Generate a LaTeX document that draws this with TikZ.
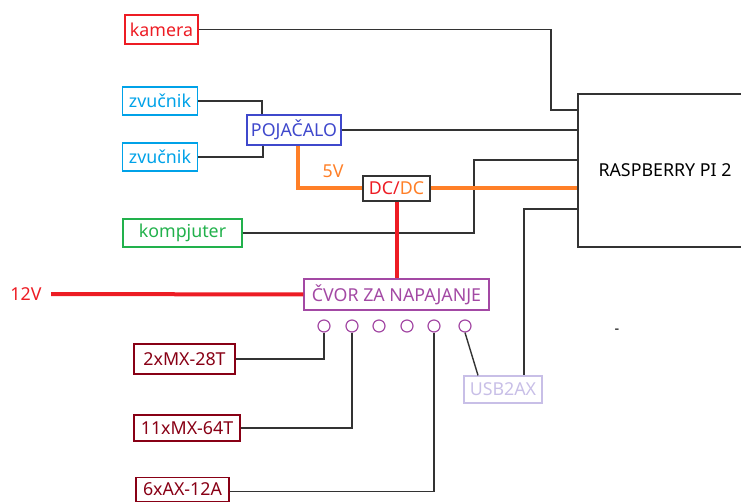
\documentclass[tikz,border=0pt]{standalone}
\usepackage{fontspec}
\setmainfont{Noto Sans}
\usetikzlibrary{positioning}
\definecolor{pred}{HTML}{ED1C24}
\definecolor{pblue}{HTML}{00A2E8}
\definecolor{pindigo}{HTML}{3F48CC}
\definecolor{porange}{HTML}{FF7F27}
\definecolor{pgreen}{HTML}{22B14C}
\definecolor{ppurple}{HTML}{A349A4}
\definecolor{pmaroon}{HTML}{880015}
\definecolor{plavender}{HTML}{C8BFE7}

\begin{document}
\begin{tikzpicture}[
  x=1pt, y=-1pt,
  font=\fontsize{17.8}{21}\selectfont,
  box/.style={draw, line width=1.3pt, inner sep=2pt, minimum height=28pt, align=center},
  wire/.style={line width=1.4pt, draw=black!80},
  pwr5/.style={line width=4pt, draw=porange},
  pwr12/.style={line width=4pt, draw=pred},
  port/.style={circle, draw=ppurple, line width=1.2pt, minimum size=12pt, inner sep=0pt},
]
  \clip (0,0) rectangle (741,502);

  % Peripherals
  \node[box, draw=pred, text=pred, minimum width=73pt, minimum height=29pt] (kamera) at (161.5,29.5) {kamera};
  \node[box, draw=pblue, text=pblue, minimum width=75pt] (zv1) at (160,101) {zvučnik};
  \node[box, draw=pblue, text=pblue, minimum width=75pt] (zv2) at (160,157) {zvučnik};
  \node[box, draw=pindigo, text=pindigo, minimum width=94pt, minimum height=30pt] (poj) at (294,130) {POJAČALO};
  \node[box, draw=pgreen, text=pgreen, minimum width=119pt] (komp) at (182.5,233) {kompjuter};

  % Power
  \node[box, draw=black!80, minimum width=67pt, minimum height=25pt] (dcdc) at (396.5,188.5) {\textcolor{pred}{DC/}\textcolor{porange}{DC}};
  \node[text=porange] (lbl5v) at (333,171) {5V};
  \node[text=pred] (v12) at (26,294) {12V};
  \node[box, draw=ppurple, text=ppurple, minimum width=185pt, minimum height=31pt] (cvor) at (396.5,294.5) {ČVOR ZA NAPAJANJE};
  \foreach \i/\x in {1/324, 2/352, 3/379, 4/407, 5/434, 6/465}
    \node[port] (p\i) at (\x,326) {};

  % Controller
  \node[box, draw=black!80, minimum width=174pt, minimum height=153pt] (rpi) at (665,170.5) {RASPBERRY PI 2};
  \node[font=\Large\bfseries, inner sep=0pt] (mark) at (617,331) {-};

  % Servos
  \node[box, draw=pmaroon, text=pmaroon, minimum width=101pt, minimum height=30pt] (mx28) at (184.5,359) {2xMX-28T};
  \node[box, draw=pmaroon, text=pmaroon, minimum width=106pt, minimum height=26pt] (mx64) at (187,428) {11xMX-64T};
  \node[box, draw=pmaroon, text=pmaroon, minimum width=93pt, minimum height=24pt] (ax12) at (182.5,489.5) {6xAX-12A};
  \node[box, draw=plavender, text=plavender, minimum width=78pt, minimum height=27pt] (usb) at (503,389.5) {USB2AX};

  % Bend points
  \coordinate (kb) at (551,110);
  \coordinate (cb) at (474,160);
  \coordinate (ub) at (524,209);

  % Signal wires
  \draw[wire] (kamera.east) -| (kb) -- (kb -| rpi.west);
  \draw[wire] (zv1.east) -| ([xshift=-32pt]poj.north);
  \draw[wire] (zv2.east) -| ([xshift=-31pt]poj.south);
  \draw[wire] (poj.east) -- (poj.east -| rpi.west);
  \draw[wire] (komp.east) -| (cb) -- (cb -| rpi.west);
  \draw[wire] (ub -| rpi.west) -| ([xshift=21pt]usb.north);
  \draw[wire] (p1.south) |- (mx28.east);
  \draw[wire] (p2.south) |- (mx64.east);
  \draw[wire] (p5.south) |- ([yshift=-2pt]ax12.east);
  \draw[wire] (p6.south) -- ([xshift=-25pt]usb.north);

  % Power lines
  \draw[pwr5] ([xshift=4pt]poj.south) |- (dcdc.west);
  \draw[pwr5] (dcdc.east) -- (dcdc.east -| rpi.west);
  \draw[pwr12] (dcdc.south) -- (cvor.north);
  \draw[pwr12, shorten <=6pt] (v12.east) -- (cvor.west);

\end{tikzpicture}
\end{document}
